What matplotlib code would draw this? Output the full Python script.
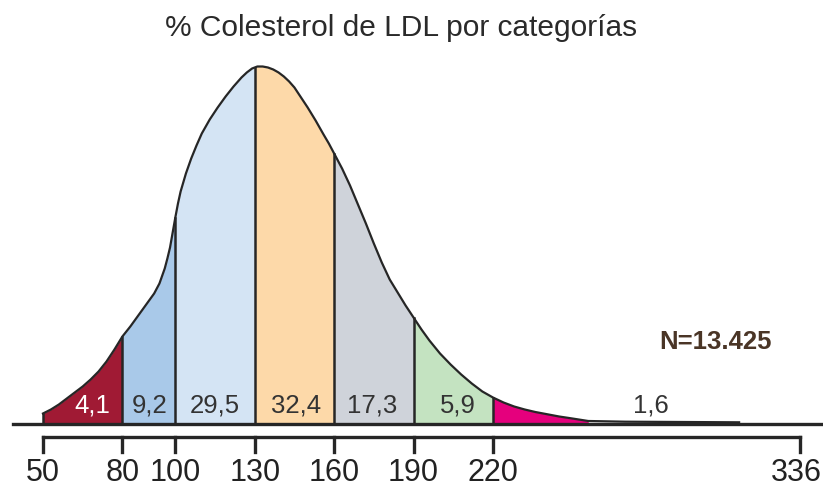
import matplotlib
matplotlib.use("Agg")
import matplotlib.pyplot as plt
import numpy as np

# curve: LDL (mg/dl) vs relative height
curve_x = [50, 53, 56, 59, 62, 65, 68, 71, 74, 77, 80, 83, 86, 89, 92, 94, 96, 97, 98, 99,
           100, 101, 102, 104, 106, 108, 110, 113, 116, 119, 122, 125, 127, 129,
           130, 131, 133, 135, 137, 139, 141, 143, 145, 147, 150, 153, 156, 158,
           160, 163, 166, 169, 172, 175, 178, 181, 184, 187,
           190, 193, 196, 200, 204, 208, 212, 216,
           220, 224, 228, 232, 236, 240, 245, 250, 256, 270, 313]
curve_h = [10, 14, 19, 25, 31, 37, 44, 52, 62, 74, 87, 97, 108, 119, 130, 140, 155, 165, 176, 191,
           206, 220, 232, 250, 265, 278, 290, 304, 316, 327, 337, 346, 351, 355,
           356, 357, 357, 356, 354, 351, 347, 342, 336, 328, 316, 303, 289, 280,
           270, 255, 238, 219, 200, 180, 161, 144, 131, 118,
           106, 94, 83, 70, 59, 49, 40, 32,
           26, 21, 17, 14, 11.5, 9.5, 7, 5, 2.5, 1.8, 1.2]

# categories
edges = [50, 80, 100, 130, 160, 190, 220, 256]
percent = ["4,1", "9,2", "29,5", "32,4", "17,3", "5,9", "1,6"]
label_x = [68.5, 90.4, 115, 145.6, 174.3, 206.8, 279.7]
colors = ["#a01a34", "#a9c9e9", "#d4e4f4", "#fdd9a9", "#cfd3da", "#c4e3c1", "#e5007d"]
text_colors = ["white", "#333333", "#333333", "#333333", "#333333", "#333333", "#333333"]

tick_vals = [50, 80, 100, 130, 160, 190, 220, 336]
title = "% Colesterol de LDL por categorías"
n_label = "N=13.425"

plt.rcParams["font.family"] = ["Liberation Sans", "DejaVu Sans"]

fig = plt.figure(figsize=(8.23, 4.91), dpi=100)
ax = fig.add_axes([0, 0, 1, 1])
ax.set_xlim(33.76, 344.7)
ax.set_ylim(-67.5, 423.5)
ax.axis("off")

cx = np.array(curve_x, dtype=float)
ch = np.array(curve_h, dtype=float)
edge_col = "#262626"

# coloured bands under the curve
for i in range(len(colors)):
    lo, hi = edges[i], edges[i + 1]
    m = (cx >= lo) & (cx <= hi)
    ax.fill_between(cx[m], 0, ch[m], color=colors[i], lw=0, zorder=1)
    ax.text(label_x[i], 18, percent[i], ha="center", va="center",
            fontsize=18.5, color=text_colors[i], zorder=4)

# boundaries between bands
for e in edges[:-1]:
    ax.plot([e, e], [0, np.interp(e, cx, ch)], color=edge_col, lw=1.8, zorder=2)

ax.plot(cx, ch, color=edge_col, lw=1.6, zorder=3, solid_joinstyle="round")

# baseline
ax.plot([38.5, 344.7], [0, 0], color=edge_col, lw=2.4, zorder=3)

# lower scale with ticks
ax.plot([tick_vals[0], tick_vals[-1]], [-13.5, -13.5], color=edge_col, lw=2.4,
        solid_capstyle="projecting")
for t in tick_vals:
    ax.plot([t, t], [-13.5, -28.5], color=edge_col, lw=2.4)
    lx = t - 1.2 if t == tick_vals[-1] else t
    ax.text(lx, -49.5, str(t), ha="center", va="center", fontsize=22, color="#222222")

ax.text(303.9, 81.5, n_label, ha="center", va="center", fontsize=18.5,
        fontweight="bold", color="#4a3526")

fig.text(401 / 823, 1 - 28 / 491, title, ha="center", va="center",
         fontsize=21.5, color="#2a2a2a")

fig.savefig("out.png", dpi=100)
